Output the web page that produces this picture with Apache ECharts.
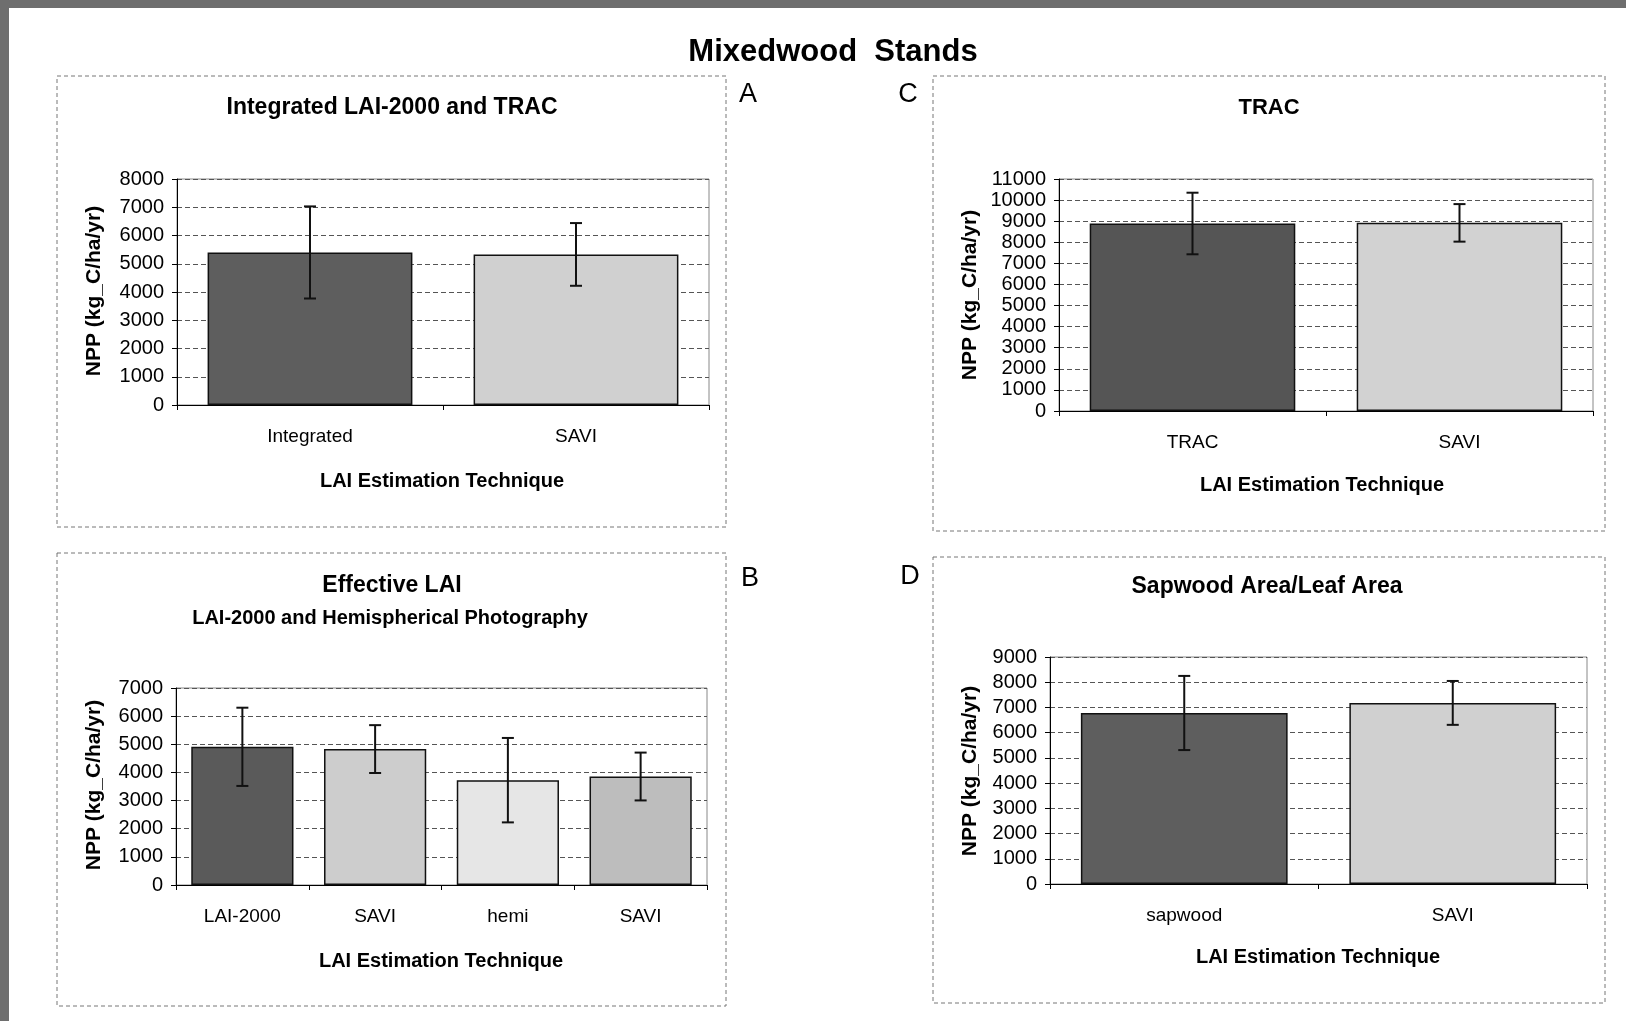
<!DOCTYPE html>
<html><head><meta charset="utf-8">
<script src="https://cdn.jsdelivr.net/npm/echarts@6/dist/echarts.min.js"></script>
<style>html,body{margin:0;padding:0;background:#fff}#c{width:1626px;height:1021px}</style>
</head><body><div id="c"></div>
<script>
// ---- data ----
const catsA = ['Integrated', 'SAVI'];
const valsA = [5400, 5330];
const errA  = [1630, 1110];
const ticksA = {max: 8000, interval: 1000};

const catsC = ['TRAC', 'SAVI'];
const valsC = [8890, 8920];
const errC  = [1460, 890];
const ticksC = {max: 11000, interval: 1000};

const catsB = ['LAI-2000', 'SAVI', 'hemi', 'SAVI'];
const valsB = [4910, 4830, 3725, 3855];
const errB  = [1390, 850, 1500, 850];
const ticksB = {max: 7000, interval: 1000};

const catsD = ['sapwood', 'SAVI'];
const valsD = [6780, 7180];
const errD  = [1470, 870];
const ticksD = {max: 9000, interval: 1000};

const colorsA = ['#5e5e5e', '#d0d0d0'];
const colorsC = ['#555555', '#d2d2d2'];
const colorsB = ['#5a5a5a', '#cdcdcd', '#e6e6e6', '#bdbdbd'];
const colorsD = ['#5e5e5e', '#d0d0d0'];

const FONT = '"Liberation Sans", Arial, sans-serif';
const chart = echarts.init(document.getElementById('c'));

const grids = [
  {left: 177, top: 179, width: 532, height: 226},
  {left: 1059, top: 179, width: 534, height: 232},
  {left: 176, top: 688, width: 531, height: 197},
  {left: 1050, top: 657, width: 537, height: 227}
];
const panels = [
  {cats: catsA, vals: valsA, err: errA, ticks: ticksA, colors: colorsA},
  {cats: catsC, vals: valsC, err: errC, ticks: ticksC, colors: colorsC},
  {cats: catsB, vals: valsB, err: errB, ticks: ticksB, colors: colorsB},
  {cats: catsD, vals: valsD, err: errD, ticks: ticksD, colors: colorsD}
];

const xAxes = [], yAxes = [], series = [];
panels.forEach((p, gi) => {
  xAxes.push({
    type: 'category', gridIndex: gi,
    data: p.cats.map((c, i) => String(i)),
    axisLine: {lineStyle: {color: '#000', width: 1}},
    axisTick: {show: true, length: 5, lineStyle: {color: '#000'}},
    axisLabel: {formatter: (v, i) => p.cats[i], margin: 22, color: '#000',
      fontFamily: FONT, fontSize: 19, letterSpacing: -1}
  });
  yAxes.push({
    type: 'value', gridIndex: gi, min: 0, max: p.ticks.max, interval: p.ticks.interval,
    axisLine: {show: true, lineStyle: {color: '#000', width: 1}},
    axisTick: {show: true, length: 5, inside: false, lineStyle: {color: '#000'}},
    axisLabel: {margin: 13, color: '#000', fontFamily: FONT, fontSize: 20, letterSpacing: -0.8,
      formatter: v => String(v)},
    splitLine: {show: true, lineStyle: {color: '#555', type: [5, 3], width: 1}}
  });
  series.push({
    type: 'bar', xAxisIndex: gi, yAxisIndex: gi,
    barCategoryGap: '23%',
    data: p.vals.map((v, i) => ({value: v, itemStyle: {color: p.colors[i]}})),
    itemStyle: {borderColor: '#111', borderWidth: 1.5},
    silent: true, animation: false
  });
  series.push({
    type: 'custom', xAxisIndex: gi, yAxisIndex: gi,
    data: p.vals.map((v, i) => [i, v - p.err[i], v + p.err[i]]),
    encode: {x: 0, y: [1, 2]},
    z: 10, silent: true, animation: false,
    renderItem: function (params, api) {
      const lo = api.coord([api.value(0), api.value(1)]);
      const hi = api.coord([api.value(0), api.value(2)]);
      const cap = 6;
      const st = {stroke: '#111', lineWidth: 2};
      return {type: 'group', children: [
        {type: 'line', shape: {x1: hi[0], y1: hi[1], x2: lo[0], y2: lo[1]}, style: st},
        {type: 'line', shape: {x1: hi[0] - cap, y1: hi[1], x2: hi[0] + cap, y2: hi[1]}, style: st},
        {type: 'line', shape: {x1: lo[0] - cap, y1: lo[1], x2: lo[0] + cap, y2: lo[1]}, style: st}
      ]};
    }
  });
});

function txt(x, y, text, size, bold, extra, ls) {
  return Object.assign({
    type: 'text', x: x, y: y, silent: true,
    style: {text: text, fontFamily: FONT, fontSize: size, fontWeight: bold ? 'bold' : 'normal',
      fill: '#000', textAlign: 'center', textVerticalAlign: 'middle', letterSpacing: ls || 0}
  }, extra || {});
}
function frame(x1, y1, x2, y2) {
  return {type: 'rect', silent: true, shape: {x: x1, y: y1, width: x2 - x1, height: y2 - y1},
    style: {fill: 'none', stroke: '#777', lineWidth: 1, lineDash: [4, 3]}};
}
const yName = 'NPP (kg_C/ha/yr)';
const xName = 'LAI Estimation Technique';
const rot = {rotation: Math.PI / 2};

const graphics = [
  {type: 'rect', silent: true, shape: {x: 0, y: 0, width: 1626, height: 8}, style: {fill: '#6e6e6e'}},
  {type: 'rect', silent: true, shape: {x: 0, y: 0, width: 9, height: 1021}, style: {fill: '#6e6e6e'}},
  frame(57, 76, 726, 527),
  frame(933, 76, 1605, 531),
  frame(57, 553, 726, 1006),
  frame(933, 557, 1605, 1003),
  txt(833, 52, 'Mixedwood  Stands', 31, true, null, -0.5),
  txt(748, 95, 'A', 27, false),
  txt(908, 95, 'C', 27, false),
  txt(750, 579, 'B', 27, false),
  txt(910, 577, 'D', 27, false),
  txt(392, 108, 'Integrated LAI-2000 and TRAC', 23, true, null, -0.6),
  txt(1269, 108, 'TRAC', 22, true, null, -0.6),
  txt(392, 586, 'Effective LAI', 23, true, null, -0.6),
  txt(390, 618, 'LAI-2000 and Hemispherical Photography', 20, true, null, -0.4),
  txt(1267, 587, 'Sapwood Area/Leaf Area', 23, true, null, -0.3),
  txt(442, 481, xName, 20, true, null, -0.5),
  txt(1322, 485, xName, 20, true, null, -0.5),
  txt(441, 961, xName, 20, true, null, -0.5),
  txt(1318, 957, xName, 20, true, null, -0.5),
  txt(94, 291, yName, 21, true, rot, 0.5),
  txt(970, 295, yName, 21, true, rot, 0.5),
  txt(94, 785, yName, 21, true, rot, 0.5),
  txt(970, 771, yName, 21, true, rot, 0.5)
];

chart.setOption({
  backgroundColor: '#fff',
  animation: false,
  grid: grids.map(g => Object.assign({show: true, borderColor: '#888', borderWidth: 1, backgroundColor: 'transparent'}, g)),
  xAxis: xAxes,
  yAxis: yAxes,
  series: series,
  graphic: graphics
});
</script>
</body></html>
